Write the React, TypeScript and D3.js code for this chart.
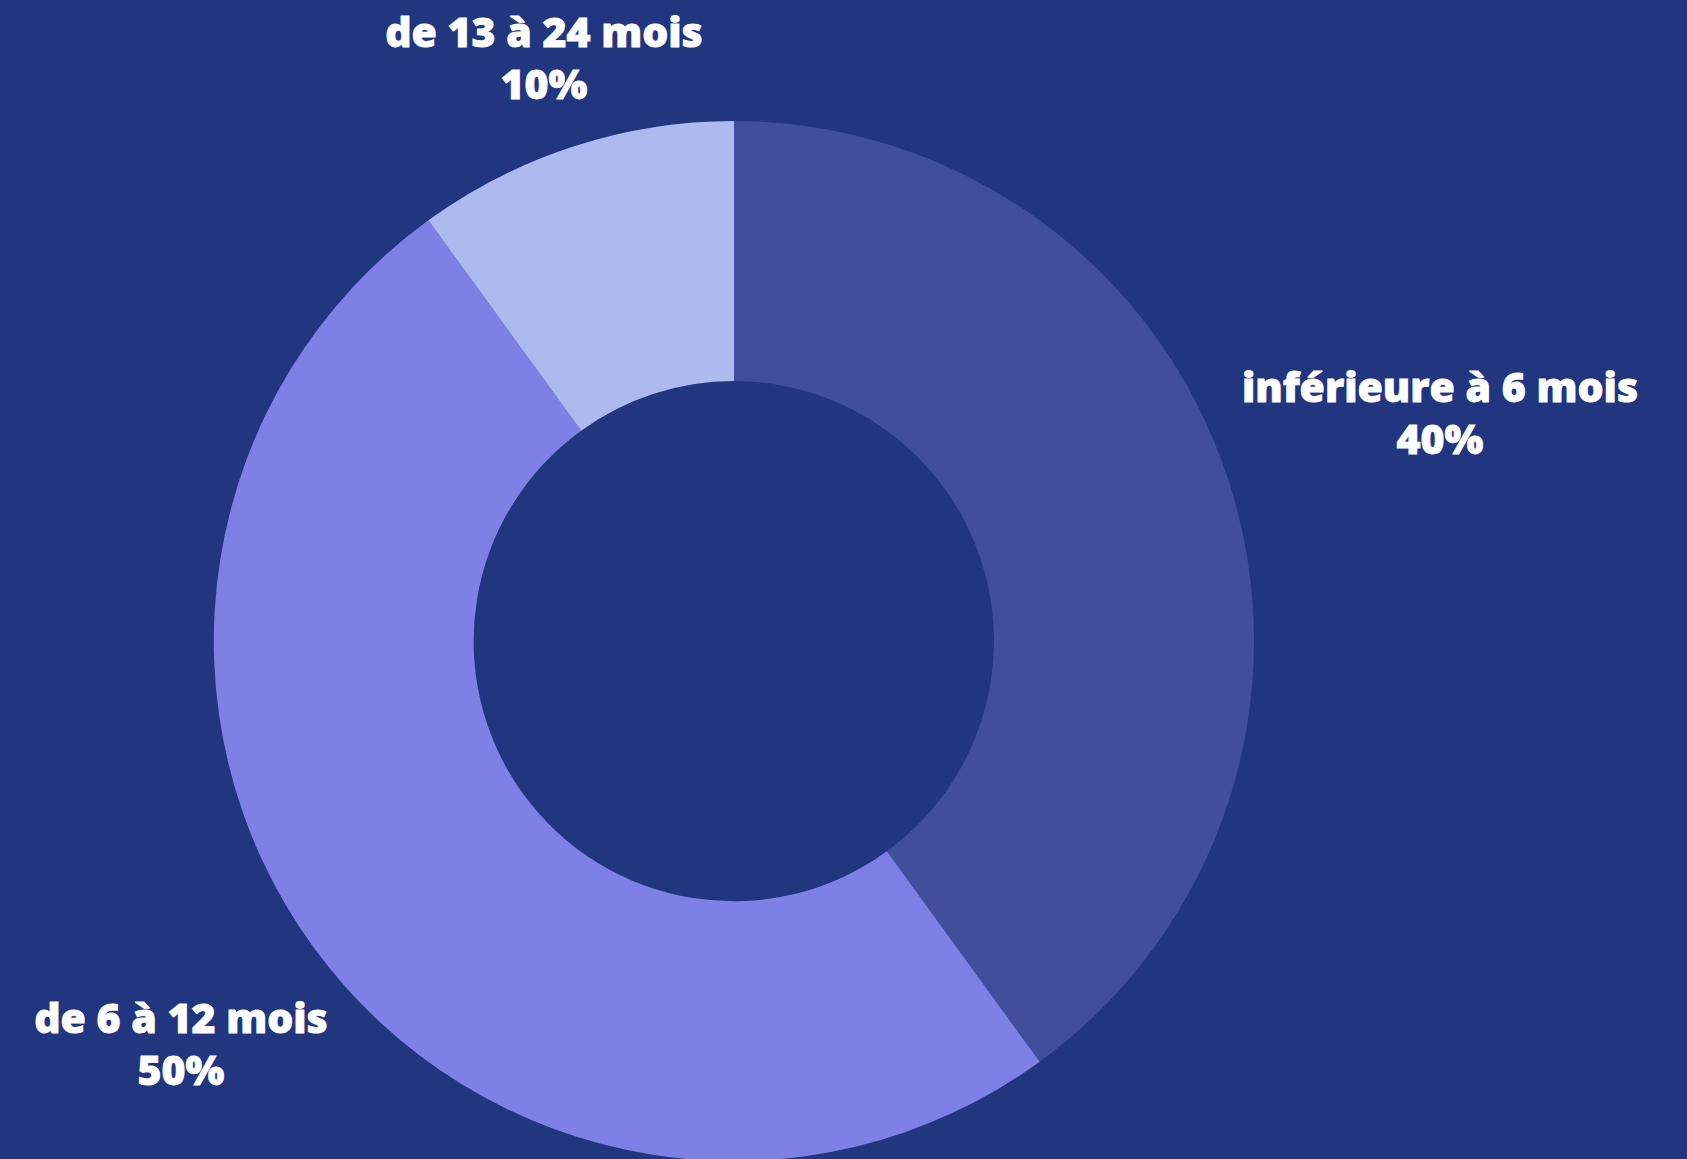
import React from "react";
import * as d3 from "d3";

const categories = ["inférieure à 6 mois", "de 6 à 12 mois", "de 13 à 24 mois"];
const values = [40, 50, 10];
const colors = ["#404E9B", "#7E80E5", "#ADBAF0"];

const W = 1687;
const H = 1159;
const cx = 734;
const cy = 641;
const outerR = 520;
const innerR = 260;

// label anchor positions (centered text)
const labelPos: [number, number][] = [
  [1440, 402],
  [181, 1033],
  [544, 47],
];

export default function App() {
  const pie = d3.pie<number>().sort(null).value((d) => d)(values);
  const arc = d3.arc<d3.PieArcDatum<number>>().innerRadius(innerR).outerRadius(outerR);
  return (
    <div style={{ position: "fixed", left: 0, top: 0, width: W, height: H }}>
      <svg width={W} height={H} style={{ display: "block" }}>
        <rect width={W} height={H} fill="#22357F" />
        <g transform={`translate(${cx},${cy})`}>
          {pie.map((p, i) => (
            <path key={i} d={arc(p) || ""} fill={colors[i]} />
          ))}
        </g>
        {categories.map((c, i) => (
          <text
            key={c}
            x={labelPos[i][0]}
            y={labelPos[i][1]}
            textAnchor="middle"
            fill="#ffffff"
            fontFamily="'Open Sans', sans-serif"
            fontWeight={800}
            fontSize={41}
            stroke="#ffffff"
            strokeWidth={0.8}
          >
            <tspan x={labelPos[i][0]}>{c}</tspan>
            <tspan x={labelPos[i][0]} dy={52}>{`${values[i]}%`}</tspan>
          </text>
        ))}
      </svg>
    </div>
  );
}
